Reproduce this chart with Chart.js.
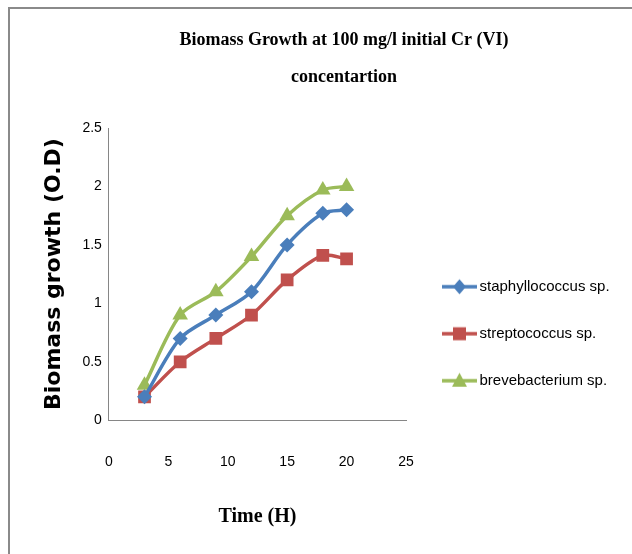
<!DOCTYPE html>
<html>
<head>
<meta charset="utf-8">
<script src="https://cdn.jsdelivr.net/npm/chart.js@4"></script>
<style>
  html, body { margin: 0; padding: 0; background: #fff; }
  #wrap { position: relative; width: 632px; height: 554px; overflow: hidden; }
  #frame { position: absolute; left: 8px; top: 7px; width: 700px; height: 700px;
           border-left: 2px solid #8a8a8a; border-top: 2px solid #8a8a8a; }
  canvas { position: absolute; left: 0; top: 0; }
</style>
</head>
<body>
<div id="wrap">
  <div id="frame"></div>
  <canvas id="c" width="632" height="554"></canvas>
</div>
<script>
// ---- data ----
const timeHours = [3, 6, 9, 12, 15, 18, 20];
const staphyllococcus = [0.2, 0.7, 0.9, 1.1, 1.5, 1.77, 1.8];
const streptococcus = [0.2, 0.5, 0.7, 0.9, 1.2, 1.41, 1.38];
const brevebacterium = [0.3, 0.9, 1.1, 1.4, 1.75, 1.97, 2.0];
const seriesNames = ['staphyllococcus sp.', 'streptococcus sp.', 'brevebacterium sp.'];
const xTickLabels = ['0', '5', '10', '15', '20', '25'];
const yTickLabels = ['0', '0.5', '1', '1.5', '2', '2.5'];

const colors = ['#4a7ebb', '#c0504d', '#9bbb59'];
const styles = ['rectRot', 'rect', 'triangle'];
const radii = [7.5, 9, 9];

// let the right-hand legend be wider than Chart.js's default half-width limit
const LEGEND_WIDTH = 216;
if (Chart.Legend && Chart.Legend._element) {
  const proto = Chart.Legend._element.prototype;
  const origFit = proto.fit;
  proto.fit = function () {
    origFit.call(this);
    if (!this.isHorizontal()) this.width = LEGEND_WIDTH;
  };
}

function pts(ys) { return timeHours.map((x, i) => ({ x: x, y: ys[i] })); }

function legendIcon(color, style) {
  const cv = document.createElement('canvas');
  cv.width = 60; cv.height = 20;
  const g = cv.getContext('2d');
  g.strokeStyle = color; g.fillStyle = color; g.lineWidth = 3.5;
  g.beginPath(); g.moveTo(17, 10); g.lineTo(52, 10); g.stroke();
  const cx = 34.5;
  g.beginPath();
  if (style === 'rectRot') { g.moveTo(cx, 2.5); g.lineTo(cx + 6.5, 10); g.lineTo(cx, 17.5); g.lineTo(cx - 6.5, 10); }
  else if (style === 'rect') { g.rect(cx - 6.5, 3.5, 13, 13); }
  else { g.moveTo(cx, 2); g.lineTo(cx + 7.5, 16); g.lineTo(cx - 7.5, 16); }
  g.closePath(); g.fill();
  return cv;
}
const icons = colors.map((c, i) => legendIcon(c, styles[i]));

const allSeries = [staphyllococcus, streptococcus, brevebacterium];
const datasets = allSeries.map((s, i) => ({
  label: seriesNames[i],
  data: pts(s),
  borderColor: colors[i],
  backgroundColor: colors[i],
  borderWidth: 3.5,
  pointStyle: styles[i],
  pointRadius: radii[i],
  pointBorderWidth: 0,
  pointBackgroundColor: colors[i],
  tension: 0.3,
  fill: false
}));

const sans = '"Liberation Sans", Arial, sans-serif';

new Chart(document.getElementById('c'), {
  type: 'line',
  data: { datasets: datasets },
  options: {
    responsive: false,
    animation: false,
    devicePixelRatio: 1,
    layout: { padding: { left: 66, right: 10, top: 8, bottom: 20 } },
    scales: {
      x: {
        type: 'linear', min: 0, max: 25,
        ticks: { stepSize: 5, padding: 34, color: '#000', maxRotation: 0, minRotation: 0,
                 font: { family: sans, size: 14 },
                 callback: (v) => xTickLabels[Math.round(v / 5)] },
        grid: { display: false, drawTicks: false },
        border: { display: true, color: '#868686', width: 1 },
        title: { display: true, text: 'Time (H)', color: '#000',
                 font: { family: '"Liberation Serif", serif', size: 20, weight: 'bold' },
                 padding: { top: 0, bottom: 5 } }
      },
      y: {
        min: 0, max: 2.5,
        ticks: { stepSize: 0.5, padding: 7, color: '#000',
                 font: { family: sans, size: 14 },
                 callback: (v) => yTickLabels[Math.round(v / 0.5)] },
        grid: { display: false, drawTicks: false },
        border: { display: true, color: '#868686', width: 1 },
        title: { display: true, text: 'Biomass growth (O.D)', color: '#000',
                 font: { family: '"DejaVu Sans", sans-serif', size: 22, weight: 'bold' },
                 padding: { top: -25, bottom: 8 } }
      }
    },
    plugins: {
      title: {
        display: true,
        text: ['Biomass Growth at 100 mg/l initial Cr (VI)', 'concentartion'],
        color: '#000',
        font: { family: '"Liberation Serif", serif', size: 18, weight: 'bold', lineHeight: 2.056 },
        padding: { top: 14, bottom: 32 }
      },
      legend: {
        position: 'right',
        align: 'end',
        fullSize: false,
        labels: {
          usePointStyle: true,
          pointStyleWidth: 34,
          padding: 32,
          color: '#000',
          font: { family: sans, size: 15 },
          generateLabels: (chart) => chart.data.datasets.map((d, i) => ({
            text: d.label, pointStyle: icons[i], fillStyle: colors[i],
            strokeStyle: colors[i], lineWidth: 0, hidden: false, datasetIndex: i
          }))
        }
      },
      tooltip: { enabled: false }
    }
  }
});
</script>
</body>
</html>
